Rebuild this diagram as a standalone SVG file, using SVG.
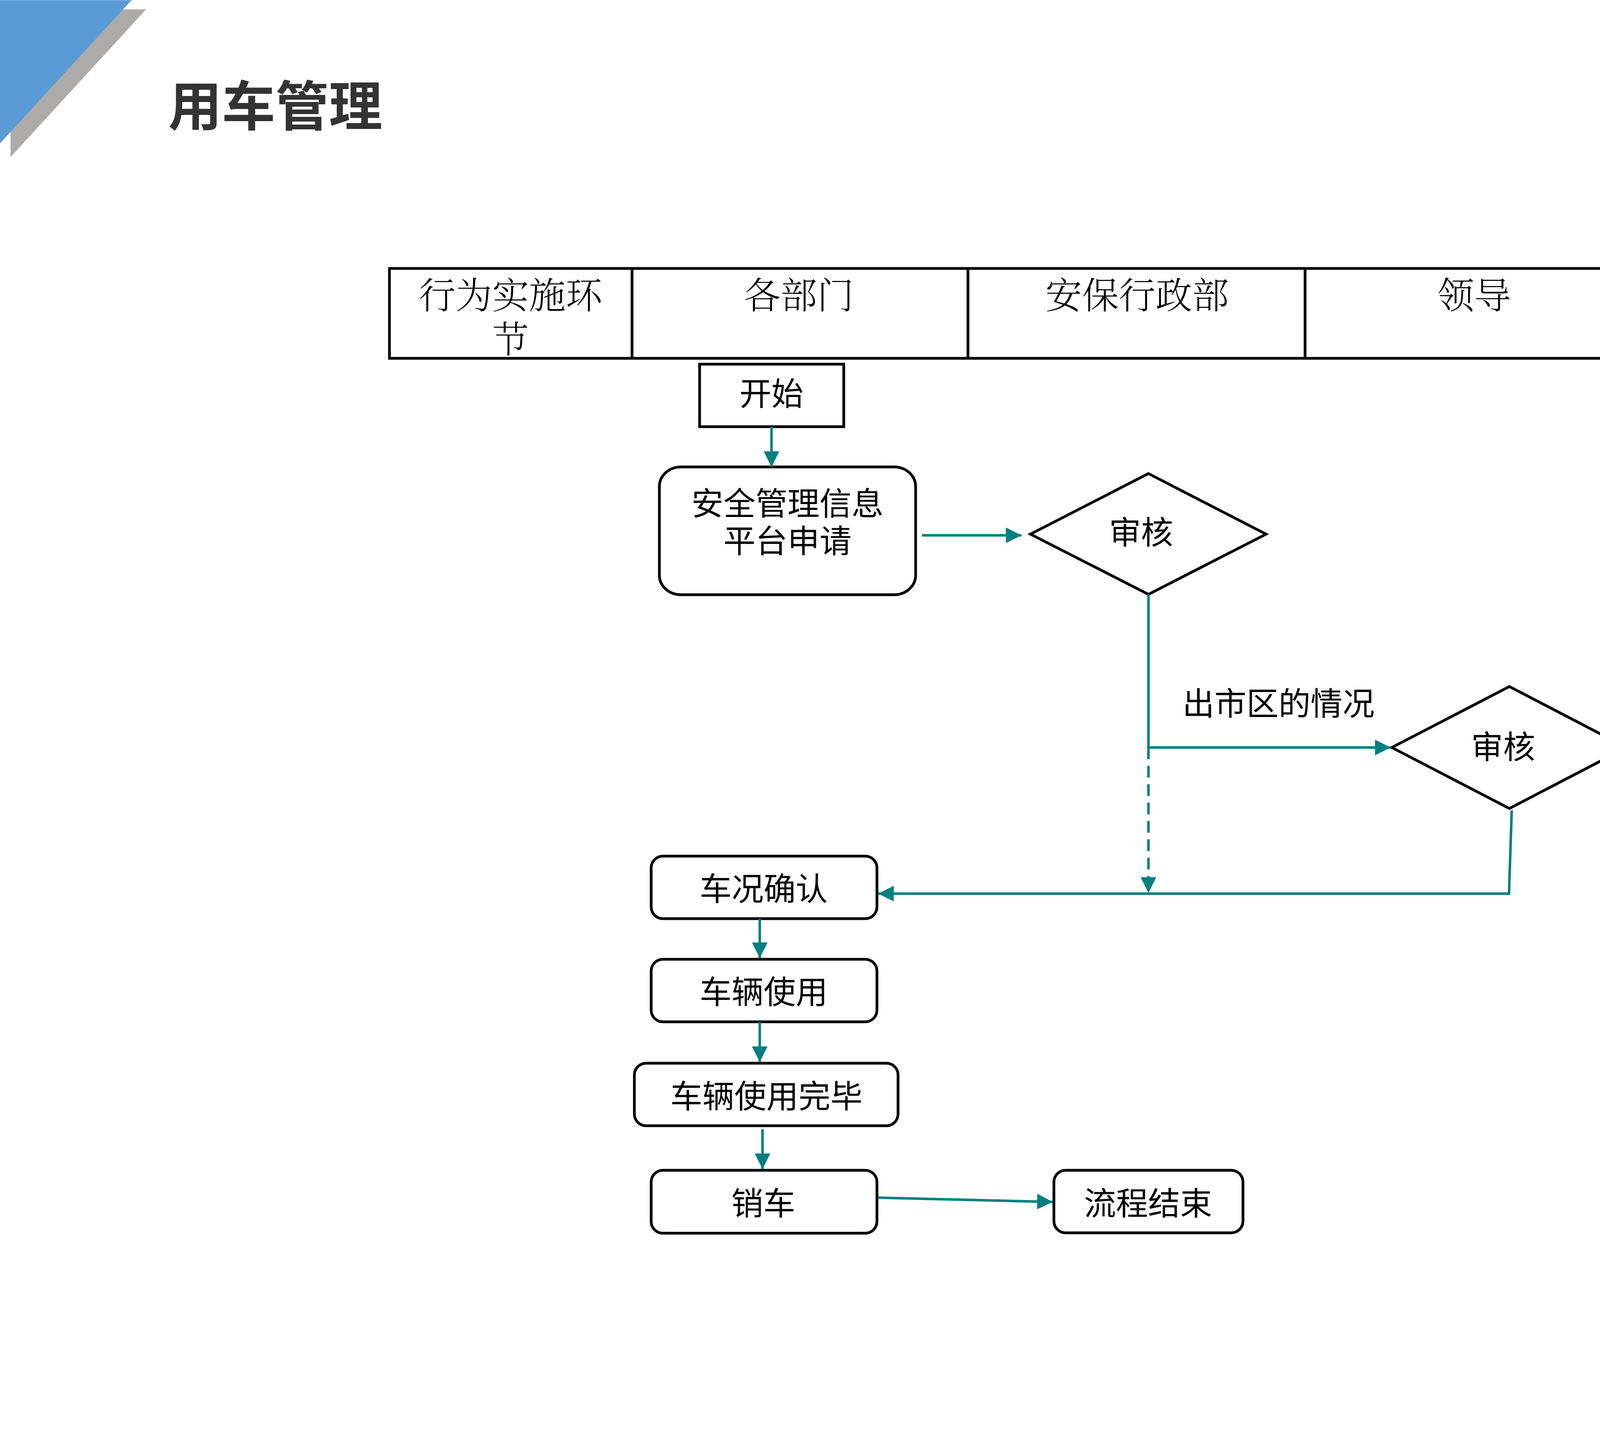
<svg xmlns="http://www.w3.org/2000/svg" width="6533" height="3675" viewBox="0 0 6533 3675">
<style>
.box{fill:#fff;stroke:#000;stroke-width:7}
.hdr{fill:none;stroke:#000;stroke-width:7}
.t{font-family:"Noto Sans CJK SC","Noto Sans",sans-serif;font-size:82px;fill:#000;text-anchor:middle}
.h{font-family:"Noto Serif CJK SC","Noto Sans CJK SC","Noto Sans",serif;font-size:94px;fill:#000;text-anchor:middle;font-weight:300}
.c{fill:none;stroke:#008080;stroke-width:6.5}
</style>
<defs>
<marker id="ah" viewBox="0 0 40 40" refX="40" refY="20" markerWidth="40" markerHeight="40" markerUnits="userSpaceOnUse" orient="auto">
<path d="M0,0 L40,20 L0,40 z" fill="#008080"/>
</marker>
</defs>
<rect width="6533" height="3675" fill="#fff"/>
<g id="corner">
<polygon points="27,24 374,24 27,402" fill="#ADAAAA"/>
<polygon points="0,0 337,0 0,367" fill="#5B9BD5"/>
<rect x="0" y="0" width="337" height="3" fill="#6AAAE8"/>
</g>
<text x="431" y="322" font-family="'Noto Sans CJK SC','Noto Sans',sans-serif" font-size="137" font-weight="bold" fill="#333333">用车管理</text>
<g id="header">
<rect class="hdr" x="997" y="687" width="3207" height="230"/>
<line class="hdr" x1="1618" y1="687" x2="1618" y2="917"/>
<line class="hdr" x1="2478" y1="687" x2="2478" y2="917"/>
<line class="hdr" x1="3341" y1="687" x2="3341" y2="917"/>
<text class="h" x="1307" y="790">行为实施环</text>
<text class="h" x="1307" y="903">节</text>
<text class="h" x="2045" y="790">各部门</text>
<text class="h" x="2911" y="790">安保行政部</text>
<text class="h" x="3774" y="790">领导</text>
</g>
<g id="start">
<rect class="box" x="1791" y="932" width="369" height="160"/>
<text class="t" x="1975" y="1037">开始</text>
</g>
<g id="apply">
<rect class="box" x="1688" y="1195" width="656" height="327" rx="55" ry="50"/>
<text class="t" x="2016" y="1318">安全管理信息</text>
<text class="t" x="2016" y="1414">平台申请</text>
</g>
<g id="review1">
<polygon class="box" points="2940,1212 3241,1367 2940,1521 2638,1367"/>
<text class="t" x="2921" y="1392">审核</text>
</g>
<g id="review2">
<polygon class="box" points="3864,1757 4164,1913 3864,2069 3563,1913"/>
<text class="t" x="3848" y="1941">审核</text>
</g>
<g id="check">
<rect class="box" x="1667" y="2191" width="578" height="160" rx="30"/>
<text class="t" x="1955" y="2304">车况确认</text>
</g>
<g id="use">
<rect class="box" x="1667" y="2455" width="578" height="160" rx="30"/>
<text class="t" x="1955" y="2568">车辆使用</text>
</g>
<g id="done">
<rect class="box" x="1624" y="2721" width="675" height="160" rx="30"/>
<text class="t" x="1962" y="2835">车辆使用完毕</text>
</g>
<g id="cancel">
<rect class="box" x="1667" y="2995" width="578" height="161" rx="30"/>
<text class="t" x="1954" y="3109">销车</text>
</g>
<g id="end">
<rect class="box" x="2698" y="2995" width="484" height="160" rx="30"/>
<text class="t" x="2939" y="3109">流程结束</text>
</g>
<g id="driver">
<text class="t" style="font-size:122px" x="5515" y="944">驾驶员</text>
<text class="t" style="font-size:122px" x="5516" y="1093">录入个人信息</text>
</g>
<g id="connectors">
<path class="c" d="M1975,1092 V1195" marker-end="url(#ah)"/>
<path class="c" d="M2360,1370 H2615" marker-end="url(#ah)"/>
<path class="c" d="M2940,1521 V1913"/>
<path class="c" d="M2940,1913 H3560" marker-end="url(#ah)"/>
<path class="c" d="M2940,1913 V2285" stroke-dasharray="30 17" marker-end="url(#ah)"/>
<path class="c" d="M3870,2074 L3863,2287 H2248" marker-end="url(#ah)"/>
<path class="c" d="M1945,2351 V2452" marker-end="url(#ah)"/>
<path class="c" d="M1945,2615 V2718" marker-end="url(#ah)"/>
<path class="c" d="M1952,2890 V2992" marker-end="url(#ah)"/>
<path class="c" d="M2248,3065 L2695,3076" marker-end="url(#ah)"/>
<text class="t" style="text-anchor:start" x="3027" y="1830">出市区的情况</text>
</g>
</svg>
